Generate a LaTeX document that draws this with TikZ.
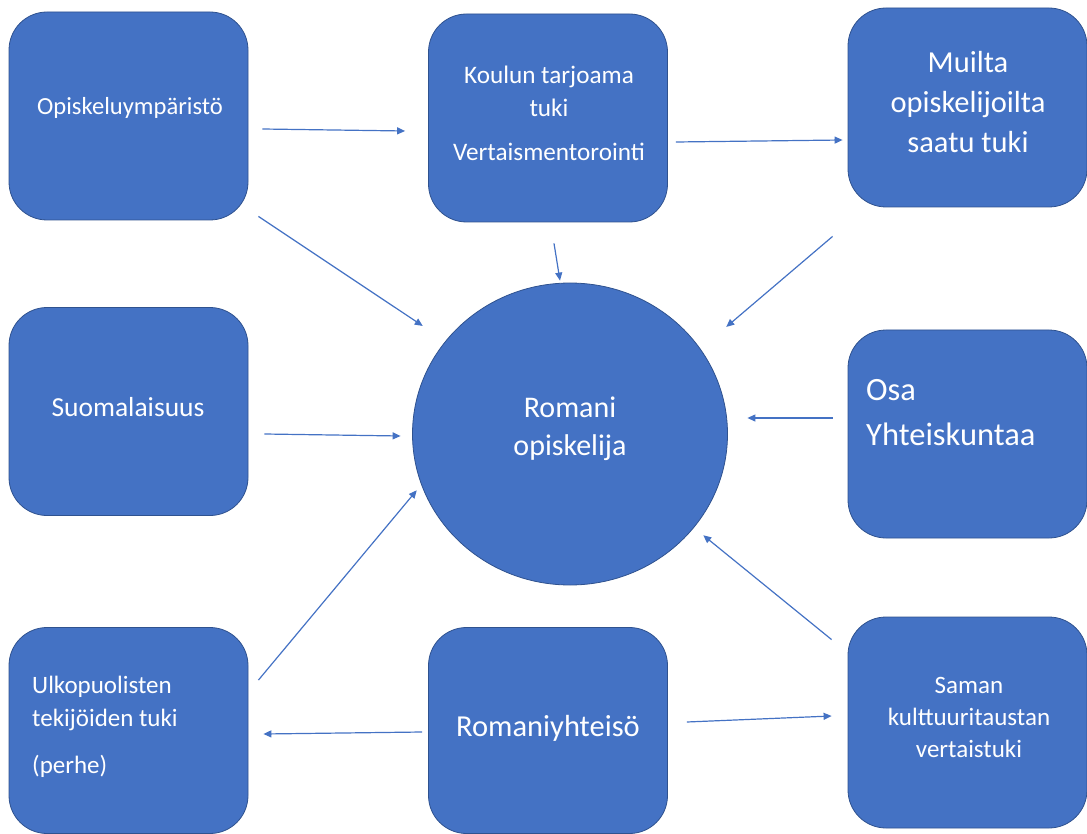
\documentclass[tikz,border=0pt]{standalone}
\usepackage{fontspec}
\setmainfont{Carlito}
\usetikzlibrary{arrows.meta,shapes.geometric}

\definecolor{boxblue}{HTML}{4472C4}
\definecolor{boxedge}{HTML}{2F528F}

\tikzset{
  box/.style={draw=boxedge, line width=0.8pt, fill=boxblue, rounded corners=38pt,
    minimum width=239pt, minimum height=208pt, inner sep=0pt},
  txt/.style={text=white, inner sep=0pt, align=center},
  conn/.style={draw=boxblue, line width=1.2pt, -{Triangle[length=8pt,width=7pt]}},
}

\begin{document}
\begin{tikzpicture}[x=1pt,y=-1pt]
\useasboundingbox (0,0) rectangle (1087,834);

% boxes
\node[box] (opisk) at (128.5,116) {};
\node[box] (koulun) at (548,118) {};
\node[box, minimum height=199pt] (muilta) at (967.5,107.5) {};
\node[box] (suomal) at (128.5,411.5) {};
\node[box] (osa) at (967.5,434) {};
\node[box, minimum height=206pt] (ulko) at (128.5,730.5) {};
\node[box, minimum height=206pt] (romyht) at (548,730.5) {};
\node[box, minimum height=211pt] (saman) at (967.5,722.5) {};
\node[ellipse, draw=boxedge, line width=0.8pt, fill=boxblue, inner sep=0pt,
  minimum width=315pt, minimum height=302pt] (romani) at (570,434) {};

% texts
\node[txt, font=\fontsize{24.6}{28}\selectfont] (opisk-t) at (130,108) {Opiskeluympäristö};
\node[txt, font=\fontsize{25.2}{33}\selectfont] (koulun-t) at (549,113)
  {Koulun tarjoama\\tuki\\[11pt]Vertaismentorointi};
\node[txt, font=\fontsize{30.5}{40}\selectfont] (muilta-t) at (968,102)
  {Muilta\\opiskelijoilta\\saatu tuki};
\node[txt, font=\fontsize{27.5}{32}\selectfont] (suomal-t) at (128,407) {Suomalaisuus};
\node[txt, font=\fontsize{30}{38}\selectfont] (romani-t) at (570,429) {Romani\\opiskelija};
\node[txt, align=left, anchor=west, font=\fontsize{32.5}{45}\selectfont] (osa-t) at (866,412.5)
  {Osa\\Yhteiskuntaa};
\node[txt, align=left, anchor=west, font=\fontsize{25}{33}\selectfont] (ulko-t) at (32,727)
  {Ulkopuolisten\\tekijöiden tuki\\[14pt](perhe)};
\node[txt, font=\fontsize{30.5}{36}\selectfont] (romyht-t) at (548,728) {Romaniyhteisö};
\node[txt, font=\fontsize{25}{32}\selectfont] (saman-t) at (969,717)
  {Saman\\kulttuuritaustan\\vertaistuki};

% connectors
\draw[conn] ([shift={(14,13)}]opisk.east) -- ([shift={(-23,13)}]koulun.west);
\draw[conn] ([shift={(8,24)}]koulun.east) -- ([shift={(-5,32.5)}]muilta.west);
\draw[conn] ([shift={(10,-4)}]opisk.south east) -- ([shift={(-35.6,-1)}]romani.north west);
\draw[conn] ([shift={(6,21)}]koulun.south) -- ([shift={(-10,-2)}]romani.north);
\draw[conn] ([shift={(-15,29)}]muilta.south west) -- ([shift={(44.6,0)}]romani.north east);
\draw[conn] ([shift={(16,22.5)}]suomal.east) -- ([shift={(-11.5,2)}]romani.west);
\draw[conn] ([shift={(-15,-16)}]osa.west) -- ([shift={(19.5,-16)}]romani.east);
\draw[conn] ([shift={(10,53)}]ulko.north east) -- ([shift={(-41.6,-50.8)}]romani.south west);
\draw[conn] ([shift={(-16,23)}]saman.north west) -- ([shift={(21.6,-5.8)}]romani.south east);
\draw[conn] ([shift={(-6,1.5)}]romyht.west) -- ([shift={(15,3.5)}]ulko.east);
\draw[conn] ([shift={(19,-8.5)}]romyht.east) -- ([shift={(-16,-6.5)}]saman.west);

\end{tikzpicture}
\end{document}
